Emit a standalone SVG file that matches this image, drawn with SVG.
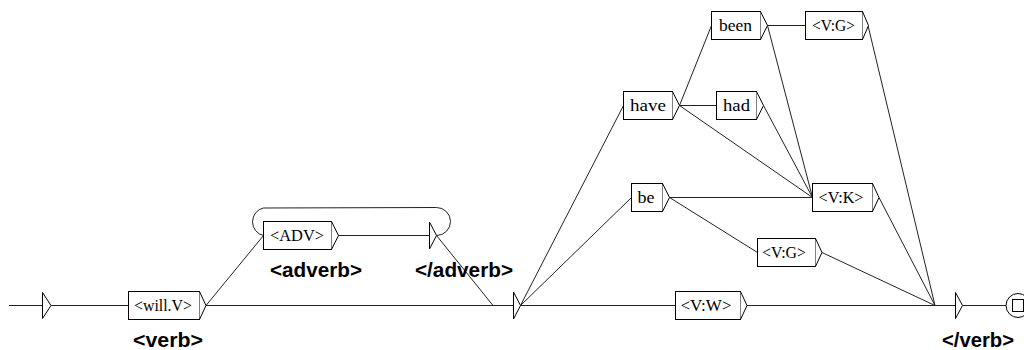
<svg xmlns="http://www.w3.org/2000/svg" width="1024" height="350" viewBox="0 0 1024 350">
<style>
.bx{fill:#fff;stroke:#000;stroke-width:1}
.tri{fill:#fff;stroke:#000;stroke-width:1;stroke-linejoin:miter}
.t{font-family:"Liberation Serif","Times New Roman",serif;font-size:16.5px;fill:#000;text-anchor:middle}
.o{font-family:"Liberation Sans",Arial,sans-serif;font-size:20.5px;font-weight:bold;fill:#000}
#edges line,#edges path{stroke:#222;stroke-width:1;fill:none}
</style>
<rect width="1024" height="350" fill="#fff"/>
<g id="edges">
<line x1="9" y1="305.5" x2="42" y2="305.5"/>
<line x1="51" y1="305.5" x2="128.5" y2="305.5"/>
<line x1="206" y1="305.5" x2="513.5" y2="305.5"/>
<line x1="206" y1="305.5" x2="263.5" y2="235.5"/>
<line x1="338.5" y1="235.5" x2="429.5" y2="235.5"/>
<path d="M263.5,235.5 A13.5,14 0 0 1 263.5,208 L436.5,207.5 A14,14 0 0 1 436.5,235.5"/>
<line x1="436.5" y1="235.5" x2="493" y2="305.5"/>
<line x1="520.5" y1="305.5" x2="623.5" y2="105.5"/>
<line x1="520.5" y1="305.5" x2="631.5" y2="197.5"/>
<line x1="520.5" y1="305.5" x2="675.5" y2="305.5"/>
<line x1="679.5" y1="105.5" x2="711.5" y2="25.5"/>
<line x1="679.5" y1="105.5" x2="716.5" y2="105.5"/>
<line x1="679.5" y1="105.5" x2="812.5" y2="197.5"/>
<line x1="767.5" y1="25.5" x2="805.5" y2="25.5"/>
<line x1="767.5" y1="25.5" x2="812.5" y2="197.5"/>
<line x1="763.5" y1="105.5" x2="812.5" y2="197.5"/>
<line x1="868" y1="25.5" x2="935" y2="305.5"/>
<line x1="669.5" y1="197.5" x2="812.5" y2="197.5"/>
<line x1="669.5" y1="197.5" x2="757.5" y2="252.5"/>
<line x1="879" y1="197.5" x2="935" y2="305.5"/>
<line x1="822" y1="252.5" x2="935" y2="305.5"/>
<line x1="747" y1="305.5" x2="955" y2="305.5"/>
<line x1="962.5" y1="305.5" x2="1006" y2="305.5"/>
</g>
<g id="init"><path class="tri" d="M42.5,292.5 L51,305.5 L42.5,318.5 Z"/></g>
<g id="will">
<rect class="bx" x="128.5" y="291.5" width="71" height="28"/>
<path class="tri" d="M199.5,291.5 L206,305.5 L199.5,319.5"/>
<text class="t" x="163" y="311" textLength="58" lengthAdjust="spacingAndGlyphs">&lt;will.V&gt;</text>
<text class="o" x="133" y="347" textLength="70" lengthAdjust="spacingAndGlyphs">&lt;verb&gt;</text>
</g>
<g id="adv">
<rect class="bx" x="263.5" y="221.5" width="68" height="28"/>
<path class="tri" d="M331.5,221.5 L338.5,235.5 L331.5,249.5"/>
<text class="t" x="297" y="241" textLength="54" lengthAdjust="spacingAndGlyphs">&lt;ADV&gt;</text>
<text class="o" x="270" y="277" textLength="92" lengthAdjust="spacingAndGlyphs">&lt;adverb&gt;</text>
</g>
<g id="advend">
<path class="tri" d="M429.5,222 L436.5,235.5 L429.5,249 Z"/>
<text class="o" x="415" y="277" textLength="98" lengthAdjust="spacingAndGlyphs">&lt;/adverb&gt;</text>
</g>
<g id="mid"><path class="tri" d="M513.5,292 L520.5,305.5 L513.5,319 Z"/></g>
<g id="have">
<rect class="bx" x="623.5" y="91.5" width="49" height="28"/>
<path class="tri" d="M672.5,91.5 L679.5,105.5 L672.5,119.5"/>
<text class="t" x="648" y="111" textLength="36" lengthAdjust="spacingAndGlyphs">have</text>
</g>
<g id="been">
<rect class="bx" x="711.5" y="11.5" width="49" height="28"/>
<path class="tri" d="M760.5,11.5 L767.5,25.5 L760.5,39.5"/>
<text class="t" x="735.5" y="31" textLength="33" lengthAdjust="spacingAndGlyphs">been</text>
</g>
<g id="vg1">
<rect class="bx" x="805.5" y="11.5" width="57" height="28"/>
<path class="tri" d="M862.5,11.5 L868.5,25.5 L862.5,39.5"/>
<text class="t" x="833.5" y="31" textLength="43" lengthAdjust="spacingAndGlyphs">&lt;V:G&gt;</text>
</g>
<g id="had">
<rect class="bx" x="716.5" y="91.5" width="40" height="28"/>
<path class="tri" d="M756.5,91.5 L763.5,105.5 L756.5,119.5"/>
<text class="t" x="736.5" y="111" textLength="27" lengthAdjust="spacingAndGlyphs">had</text>
</g>
<g id="be">
<rect class="bx" x="631.5" y="183.5" width="31" height="28"/>
<path class="tri" d="M662.5,183.5 L669.5,197.5 L662.5,211.5"/>
<text class="t" x="646" y="203" textLength="17" lengthAdjust="spacingAndGlyphs">be</text>
</g>
<g id="vk">
<rect class="bx" x="812.5" y="183.5" width="60" height="28"/>
<path class="tri" d="M872.5,183.5 L879,197.5 L872.5,211.5"/>
<text class="t" x="841" y="203" textLength="45" lengthAdjust="spacingAndGlyphs">&lt;V:K&gt;</text>
</g>
<g id="vg2">
<rect class="bx" x="757.5" y="238.5" width="58" height="28"/>
<path class="tri" d="M815.5,238.5 L822,252.5 L815.5,266.5"/>
<text class="t" x="784" y="258" textLength="44" lengthAdjust="spacingAndGlyphs">&lt;V:G&gt;</text>
</g>
<g id="vw">
<rect class="bx" x="675.5" y="291.5" width="65" height="28"/>
<path class="tri" d="M740.5,291.5 L747,305.5 L740.5,319.5"/>
<text class="t" x="706" y="311" textLength="51" lengthAdjust="spacingAndGlyphs">&lt;V:W&gt;</text>
</g>
<g id="verbend">
<path class="tri" d="M955.5,292.5 L962.5,305.5 L955.5,318.5 Z"/>
<text class="o" x="942" y="347" textLength="72" lengthAdjust="spacingAndGlyphs">&lt;/verb&gt;</text>
</g>
<g id="final">
<circle cx="1018" cy="305.5" r="12" fill="#fff" stroke="#000"/>
<rect x="1012.5" y="299.5" width="11" height="12" fill="#fff" stroke="#000"/>
</g>
</svg>
